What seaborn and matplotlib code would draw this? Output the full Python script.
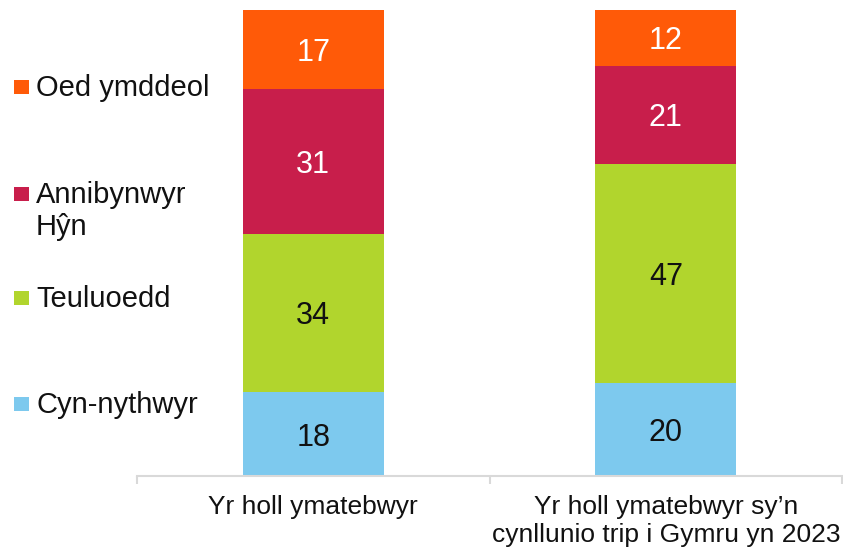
import matplotlib
matplotlib.use("Agg")
import matplotlib.pyplot as plt
from matplotlib.patches import Rectangle
import numpy as np
import pandas as pd
import seaborn as sns

# Data
categories = ["Yr holl ymatebwyr", "Yr holl ymatebwyr sy\u2019n\ncynllunio trip i Gymru yn 2023"]
segments = ["Cyn-nythwyr", "Teuluoedd", "Annibynwyr\nH\u0177n", "Oed ymddeol"]
cyn_nythwyr = [18, 20]
teuluoedd = [34, 47]
annibynwyr_hyn = [31, 21]
oed_ymddeol = [17, 12]
series_values = [cyn_nythwyr, teuluoedd, annibynwyr_hyn, oed_ymddeol]
colors = ["#7DC9EE", "#B1D52D", "#C81E4B", "#FF5A08"]
label_colors = ["#111111", "#111111", "white", "white"]

sns.set_theme(style="white")
plt.rcParams["font.family"] = ["Liberation Sans", "DejaVu Sans"]

W, H = 843, 556
fig = plt.figure(figsize=(W / 100, H / 100), dpi=100)
ax = fig.add_axes([137 / W, 1 - 476 / H, (842 - 137) / W, (476 - 10) / H])

bottom = np.zeros(len(categories))
for name, vals, col, tcol in zip(segments, series_values, colors, label_colors):
    df = pd.DataFrame({"cat": categories, "val": vals})
    sns.barplot(data=df, x="cat", y="val", color=col, width=0.4,
                bottom=bottom, ax=ax, saturation=1, linewidth=0)
    for i, v in enumerate(vals):
        ax.text(i, bottom[i] + v / 2, f"{v}", ha="center",
                va="center_baseline", fontsize=22, color=tcol)
    bottom = bottom + np.array(vals)

ax.set_xlim(-0.5, 1.5)
ax.set_ylim(0, 100)
ax.set_xlabel("")
ax.set_ylabel("")
ax.set_yticks([])
for s in ["top", "right", "left"]:
    ax.spines[s].set_visible(False)
ax.spines["bottom"].set_color("#D9D9D9")
ax.spines["bottom"].set_linewidth(1.5)

# Category labels at bar centres, tick marks at the category boundaries
ax.set_xticks([0, 1])
ax.set_xticklabels(categories, fontsize=19, color="#111111", linespacing=1.2)
ax.tick_params(axis="x", which="major", bottom=False, length=0, pad=14)
ax.set_xticks([-0.5, 0.5, 1.5], minor=True)
ax.tick_params(axis="x", which="minor", bottom=True, length=6, width=1.5,
               color="#D9D9D9", direction="out")

# Legend down the left side, top entry first
legend_rows = [
    ("Oed ymddeol", colors[3], 96),
    ("Annibynwyr\nH\u0177n", colors[2], 203),
    ("Teuluoedd", colors[1], 307),
    ("Cyn-nythwyr", colors[0], 413),
]
for label, col, base in legend_rows:
    fig.add_artist(Rectangle((14 / W, 1 - (base - 2) / H), 15 / W, 14 / H,
                             transform=fig.transFigure, facecolor=col,
                             edgecolor="none"))
    lines = label.split("\n")
    for k, line in enumerate(lines):
        fig.text(36 / W, 1 - (base + 32 * k) / H, line, fontsize=21,
                 color="#111111", ha="left", va="baseline")

fig.savefig("out.png", dpi=100)
